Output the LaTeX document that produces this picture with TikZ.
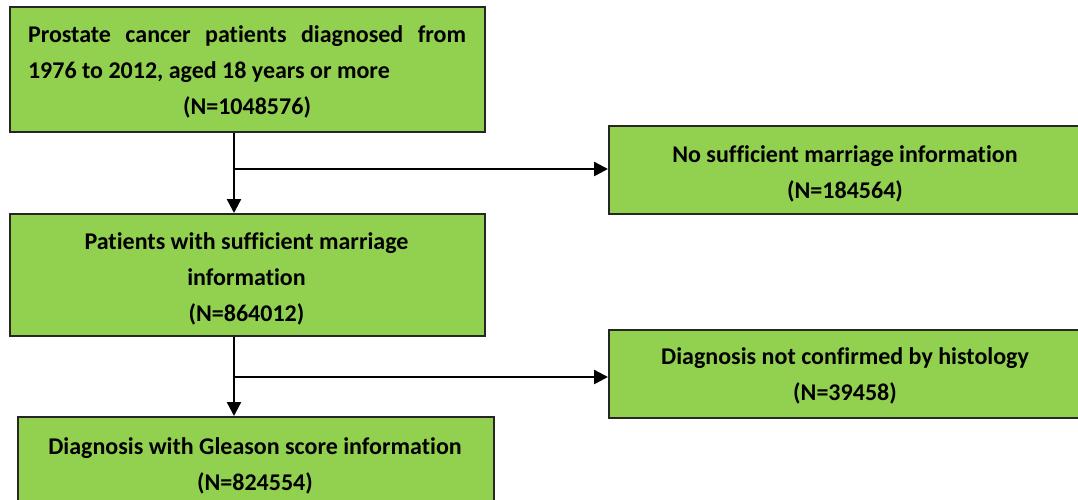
\documentclass[tikz,border=0pt]{standalone}
\usepackage{fontspec}
\setmainfont{Carlito}[Ligatures=NoCommon]
\usetikzlibrary{arrows.meta}
\definecolor{boxgreen}{HTML}{92D050}
\tikzset{
  box/.style={draw=black!85, line width=1.6pt, fill=boxgreen, rectangle, inner sep=0pt},
  txt/.style={font=\fontsize{24}{36}\selectfont\bfseries, align=center},
  jtxt/.style={font=\fontsize{24}{36}\selectfont\bfseries, align=justify},
  conn/.style={line width=2.4pt, -{Triangle[length=14pt,width=14pt]}},
}
\begin{document}
\begin{tikzpicture}[x=1pt,y=-1pt]
\useasboundingbox (0,0) rectangle (1078,499);
\clip (0,0) rectangle (1078,499);
% boxes
\node[box, minimum width=475pt, minimum height=125pt, anchor=north west] (b1) at (9,6) {};
\node[box, minimum width=472pt, minimum height=88pt, anchor=north west] (b2) at (608,125) {};
\node[box, minimum width=475pt, minimum height=122pt, anchor=north west] (b3) at (9,213) {};
\node[box, minimum width=476pt, minimum height=95pt, anchor=north west] (b4) at (17,416) {};
\node[box, minimum width=472pt, minimum height=88pt, anchor=north west] (b5) at (608,329) {};
% texts
\node[jtxt, text width=438pt, anchor=center, inner sep=0pt] (t1) at (247,71.5) {%
  \hyphenpenalty=10000 Prostate cancer patients diagnosed from\linebreak 1976 to 2012, aged 18 years or more\par
  {\centering (N=1048576)\par}%
};
\node[txt, anchor=center] (t2) at (845,174) {No sufficient marriage information\\(N=184564)};
\node[txt, anchor=center] (t3) at (246.5,279) {Patients with sufficient marriage\\information\\(N=864012)};
\node[txt, anchor=center] (t4) at (255,465.5) {Diagnosis with Gleason score information\\(N=824554)};
\node[txt, anchor=center] (t5) at (845,376) {Diagnosis not confirmed by histology\\(N=39458)};
% connectors
\coordinate (j1) at (234,169);
\coordinate (j2) at (234,377);
\draw[conn] (b1.south -| j1) -- (b3.north -| j1);
\draw[conn] (j1) -- (j1 -| b2.west);
\draw[conn] (b3.south -| j2) -- (b4.north -| j2);
\draw[conn] (j2) -- (j2 -| b5.west);
\end{tikzpicture}
\end{document}
